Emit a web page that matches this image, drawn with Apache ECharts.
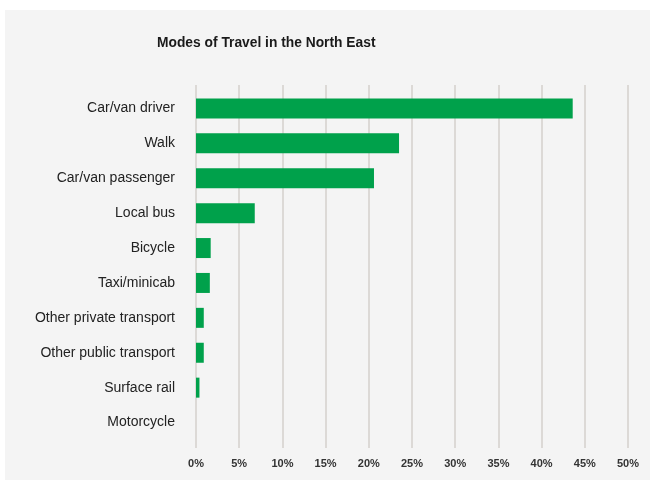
<!DOCTYPE html>
<html>
<head>
<meta charset="utf-8">
<script src="https://cdn.jsdelivr.net/npm/echarts@6/dist/echarts.min.js"></script>
<style>
  body { margin: 0; padding: 0; background: #fff; }
  #chart { width: 650px; height: 484px; }
</style>
</head>
<body>
<div id="chart"></div>
<script>
  // travel modes, top to bottom as in the picture
  const modes = [
    "Car/van driver",
    "Walk",
    "Car/van passenger",
    "Local bus",
    "Bicycle",
    "Taxi/minicab",
    "Other private transport",
    "Other public transport",
    "Surface rail",
    "Motorcycle"
  ];
  // share of journeys, percent
  const shares = [43.6, 23.5, 20.6, 6.8, 1.7, 1.6, 0.9, 0.9, 0.4, 0];
  const xTicks = [0, 5, 10, 15, 20, 25, 30, 35, 40, 45, 50];

  const chart = echarts.init(document.getElementById("chart"));

  const option = {
    animation: false,
    graphic: [{
      type: "rect",
      shape: { x: 5, y: 10, width: 650, height: 470 },
      style: { fill: "#f4f4f4" },
      z: -10
    }],
    title: {
      text: "Modes of Travel in the North East",
      left: 152,
      top: 31,
      textStyle: {
        fontFamily: "Liberation Sans",
        fontSize: 13.8,
        fontWeight: "bold",
        color: "#1a1a1a"
      }
    },
    grid: [
      // grid 0 only carries the gridlines and tick labels
      { left: 196, right: 22, top: 85, height: 363 },
      // grid 1 holds the bars
      { left: 196, right: 22, top: 91, height: 349 }
    ],
    xAxis: [
      {
        gridIndex: 0,
        type: "value",
        min: xTicks[0],
        max: xTicks[xTicks.length - 1],
        interval: 5,
        axisLine: { show: false },
        axisTick: { show: false },
        axisLabel: {
          margin: 10,
          formatter: "{value}%",
          fontFamily: "Liberation Sans",
          fontSize: 11,
          fontWeight: "bold",
          color: "#333"
        },
        splitLine: { lineStyle: { color: "#d4d0cd", width: 1.5 } }
      },
      {
        gridIndex: 1,
        type: "value",
        min: 0,
        max: 50,
        show: false
      }
    ],
    yAxis: [
      {
        gridIndex: 0,
        type: "category",
        data: modes,
        show: false
      },
      {
        gridIndex: 1,
        type: "category",
        data: modes,
        inverse: true,
        axisLine: { show: false },
        axisTick: { show: false },
        axisLabel: {
          margin: 21,
          fontFamily: "Liberation Sans",
          fontSize: 14,
          color: "#222"
        },
        splitLine: { show: false }
      }
    ],
    series: [
      {
        type: "bar",
        xAxisIndex: 1,
        yAxisIndex: 1,
        data: shares,
        barWidth: 20,
        itemStyle: { color: "#00a14b" }
      }
    ]
  };

  chart.setOption(option);
</script>
</body>
</html>
